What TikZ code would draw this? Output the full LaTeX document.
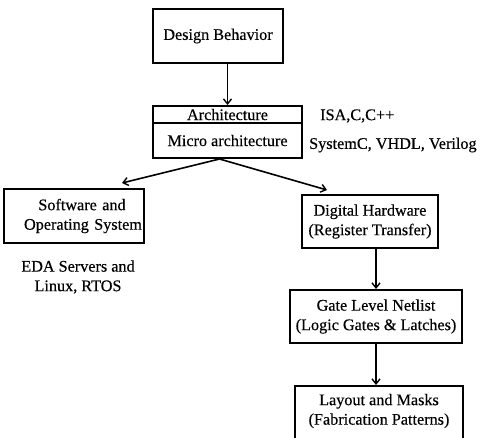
\documentclass[tikz,border=0pt]{standalone}
\usepackage{fontspec}
\setmainfont{Liberation Serif}[FakeBold=0.4]
\usetikzlibrary{arrows.meta}
\begin{document}
\begin{tikzpicture}[x=1pt,y=-1pt,
  every node/.style={font=\fontsize{16.2}{19.5}\selectfont},
  box/.style={draw,line width=2pt,inner sep=0pt,align=center},
  note/.style={inner sep=0pt,align=center},
  flow/.style={line width=1.6pt,-{Straight Barb[length=5pt,width=8pt,line width=1.4pt]}}]
\useasboundingbox (0,0) rectangle (481,438);
\clip (0,0) rectangle (481,438);

% top-level specification
\node[box,minimum width=130pt,minimum height=54pt] (db) at (218,36) {Design Behavior};

% architecture block, two stacked rows
\node[box,minimum width=149pt,minimum height=17pt] (arch) at (227.5,114.5) {Architecture};
\node[box,minimum width=149pt,minimum height=35pt] (micro) at (227.5,140.5) {Micro architecture};
\node[note,anchor=west] (isa) at (320,116) {ISA,C,C++};
\node[note,anchor=west] (lang) at (309,145) {SystemC, VHDL, Verilog};

% software branch
\node[box,minimum width=140pt,minimum height=54pt,text width=140pt] (sw) at (74,216)
  {\hspace*{16pt}Software and\\ \hspace*{18pt}Operating System};
\node[note] (eda) at (78,277) {EDA Servers and\\ Linux, RTOS};

% hardware branch
\node[box,minimum width=136pt,minimum height=53pt] (dh) at (370,221.5) {Digital Hardware\\(Register Transfer)};
\node[box,minimum width=172pt,minimum height=53pt] (gl) at (376,316.5) {Gate Level Netlist\\(Logic Gates \& Latches)};
\node[box,minimum width=168pt,minimum height=70pt,anchor=north] (lay) at (379,385) {};
\node[note] (laytxt) at (379,411) {Layout and Masks\\(Fabrication Patterns)};

% connectors
\coordinate (split) at ([xshift=-8pt]micro.south);
\coordinate (swin) at (122,183);
\coordinate (dhin) at (327,190);
\draw[flow] (db.south -| arch.north) -- (arch.north);
\draw[flow] (split) -- (swin);
\draw[flow] (split) -- (dhin);
\draw[flow] (dh.south -| gl.north) -- (gl.north);
\draw[flow] (gl.south) -- (gl.south |- lay.north);
\end{tikzpicture}
\end{document}
